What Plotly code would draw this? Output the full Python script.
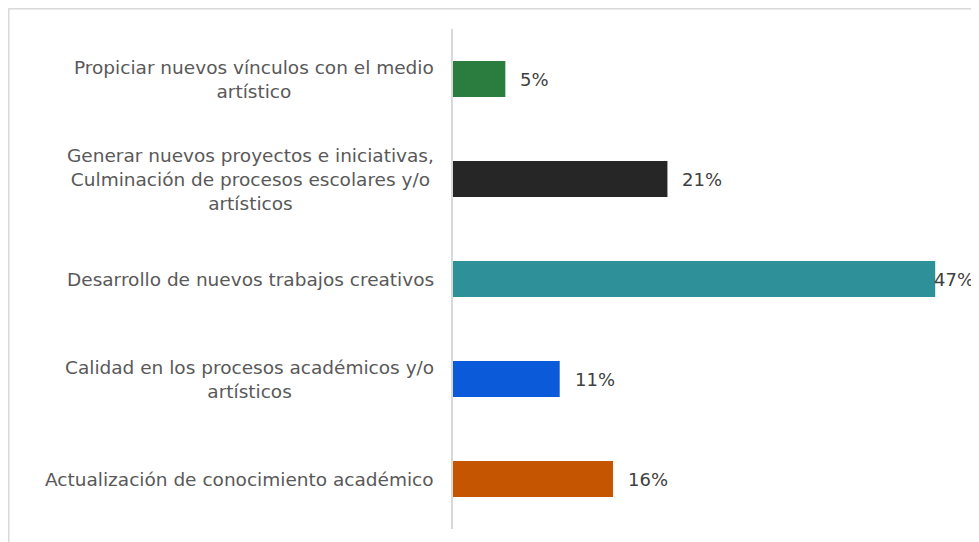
import plotly.graph_objects as go

categories = [
    "Propiciar nuevos vínculos con el medio<br>artístico",
    "Generar nuevos proyectos e iniciativas,<br>Culminación de procesos escolares y/o<br>artísticos",
    "Desarrollo de nuevos trabajos creativos",
    "Calidad en los procesos académicos y/o<br>artísticos",
    "Actualización de conocimiento académico",
]
values = [5.1, 20.9, 47.0, 10.4, 15.6]
labels = ["5%", "21%", "47%", "11%", "16%"]
colors = ["#2a7c3f", "#262626", "#2e9199", "#0b5ad9", "#c55500"]
label_shift = [13, 13, -3, 13, 13]

FONT = "DejaVu Sans"

fig = go.Figure()
fig.add_trace(go.Bar(
    x=values,
    y=categories,
    orientation="h",
    marker=dict(color=colors, line=dict(width=0)),
    width=0.36,
    hoverinfo="skip",
))

annotations = []
for cat, v, lab, sh in zip(categories, values, labels, label_shift):
    annotations.append(dict(
        x=v, y=cat, xref="x", yref="y", text=lab, showarrow=False,
        xanchor="left", yanchor="middle", xshift=sh,
        font=dict(family=FONT, size=18, color="#404040"),
    ))
    annotations.append(dict(
        x=0, y=cat, xref="paper", yref="y", text=cat, showarrow=False,
        xanchor="right", yanchor="middle", align="center", xshift=-17,
        font=dict(family=FONT, size=18.5, color="#595959"),
    ))

W, H = 979, 542
ml, mr, mt, mb = 445, 21, 21, 21
pw = W - ml - mr
ph = H - mt - mb
bx0 = (0.5 - ml) / pw
by1 = (H - 0.5 - mb) / ph

fig.update_layout(
    width=W, height=H,
    margin=dict(l=ml, r=mr, t=mt, b=mb),
    paper_bgcolor="white", plot_bgcolor="white",
    showlegend=False,
    annotations=annotations,
    shapes=[
        dict(type="line", xref="paper", yref="paper", x0=bx0, x1=1.1, y0=by1, y1=by1,
             line=dict(color="#d9d9d9", width=2)),
        dict(type="line", xref="paper", yref="paper", x0=bx0, x1=bx0, y0=by1, y1=-0.2,
             line=dict(color="#d9d9d9", width=2)),
    ],
    xaxis=dict(range=[0, 50], visible=False, showgrid=False, zeroline=False),
    yaxis=dict(autorange="reversed", showticklabels=False, showgrid=False, zeroline=False,
               showline=True, linecolor="#d9d9d9", linewidth=2, ticks=""),
)

fig.write_html("out.html")
